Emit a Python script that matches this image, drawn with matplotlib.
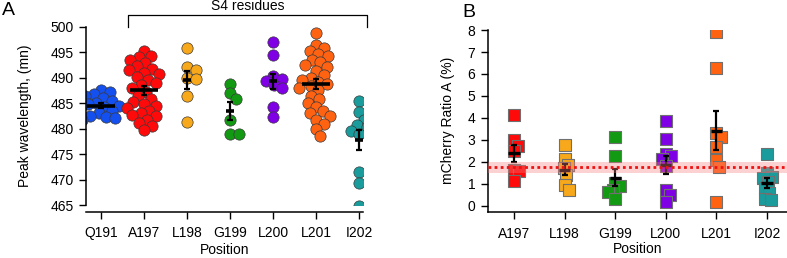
import numpy as np
import matplotlib
matplotlib.use('Agg')
import matplotlib.pyplot as plt

plt.rcParams['font.family'] = ['Liberation Sans', 'DejaVu Sans']
plt.rcParams['font.size'] = 10

# Panel A: peak wavelength per position
pos_a = ['Q191', 'A197', 'L198', 'G199', 'L200', 'L201', 'I202']
q191 = [487.6, 487.2, 486.8, 486.5, 486.0, 485.5, 485.0, 484.8, 484.5, 484.3,
        484.0, 483.5, 483.0, 482.5, 482.2, 482.0, 481.8]
a197 = [495.3, 494.2, 494.0, 493.5, 492.8, 492.2, 491.8, 491.5, 491.0, 490.8,
        490.2, 489.5, 489.0, 488.5, 488.0, 487.2, 486.5, 485.8, 485.2, 484.8,
        484.5, 484.0, 483.5, 483.0, 482.7, 482.5, 481.8, 481.2, 480.5, 479.8]
l198 = [495.8, 492.0, 491.5, 490.0, 489.8, 486.5, 481.3]
g199 = [488.7, 487.0, 485.8, 481.7, 478.9, 478.9]
l200 = [497.0, 494.4, 490.3, 489.8, 489.3, 488.5, 488.0, 484.2, 482.2]
l201 = [498.7, 496.5, 495.8, 495.3, 494.6, 494.3, 493.5, 493.0, 492.5, 492.0,
        491.3, 490.5, 490.0, 489.5, 489.2, 488.8, 488.3, 488.0, 487.5, 486.5,
        485.8, 485.0, 484.3, 483.5, 483.0, 482.5, 481.8, 481.0, 480.0, 478.5]
i202 = [485.5, 483.2, 481.8, 480.7, 480.3, 479.6, 479.3, 479.0, 471.5, 469.3, 464.8]
groups_a = [q191, a197, l198, g199, l200, l201, i202]
colors_a = ['#1450f0', '#ff0a0a', '#f7a81b', '#139a13', '#8000e6', '#ff6210', '#1a9c9c']

# Panel B: mCherry ratio per position
pos_b = ['A197', 'L198', 'G199', 'L200', 'L201', 'I202']
r_a197 = [4.14, 3.0, 2.74, 2.5, 1.64, 1.6, 1.12]
r_l198 = [2.77, 2.12, 1.86, 1.72, 1.41, 0.95, 0.73]
r_g199 = [3.15, 2.26, 1.05, 0.9, 0.72, 0.65, 0.32]
r_l200 = [3.88, 3.03, 2.35, 2.25, 2.12, 1.82, 0.73, 0.5, 0.2]
r_l201 = [7.91, 6.26, 3.3, 3.15, 2.7, 2.09, 1.79, 0.2]
r_i202 = [2.36, 1.49, 1.33, 1.26, 1.1, 0.8, 0.58, 0.32, 0.27]
groups_b = [r_a197, r_l198, r_g199, r_l200, r_l201, r_i202]
colors_b = colors_a[1:]
ctrl_mean = 1.75
ctrl_sem = 0.24


def swarm(vals, px_x, px_y, diam):
    # simple beeswarm: offsets in data units so markers don't overlap
    ys = np.asarray(vals, float) * px_y
    cands = [0.0]
    for s in np.arange(0.5, 60, 0.5):
        cands += [s, -s]
    placed = []
    offs = np.zeros(len(ys))
    for i in np.argsort(-ys):
        for c in cands:
            if all((c - p) ** 2 + (ys[i] - q) ** 2 >= diam ** 2 for p, q in placed):
                break
        placed.append((c, ys[i]))
        offs[i] = c
    return offs / px_x


def mean_sem(ax, x, vals, half, lw_mean, z=4):
    v = np.asarray(vals, float)
    m = v.mean()
    sem = v.std(ddof=1) / np.sqrt(len(v))
    ax.plot([x - half, x + half], [m, m], color='black', lw=lw_mean,
            solid_capstyle='butt', zorder=z)
    ax.errorbar(x, m, yerr=sem, fmt='none', ecolor='black', elinewidth=1.6,
                capsize=2.5, capthick=1.6, zorder=z)


fig = plt.figure(figsize=(7.87, 2.58), dpi=100)

# ---------------- Panel A ----------------
axA = fig.add_axes([0.1093, 0.2047, 0.352, 0.6918])
xa = np.arange(len(pos_a))
for x, vals, col in zip(xa, groups_a, colors_a):
    off = swarm(vals, 43.0, 5.1, 8.4)
    axA.scatter(x + off, vals, s=66, color=col, edgecolors='#3a3a3a',
                linewidths=0.5, zorder=2)
    half = 0.32 if len(vals) >= 15 else 0.1
    mean_sem(axA, x, vals, half, 2.6)

axA.set_xlim(-0.35, 6.09)
axA.set_ylim(465, 500)
axA.set_yticks(np.arange(465, 501, 5))
axA.set_xticks(xa)
axA.set_xticklabels(pos_a)
axA.spines['top'].set_visible(False)
axA.spines['right'].set_visible(False)
axA.spines['bottom'].set_position(('outward', 5))
axA.tick_params(direction='out', length=5, width=1, pad=4)
axA.tick_params(axis='x', pad=5)
axA.set_ylabel('Peak wavelength, (mn)', labelpad=13)
axA.set_xlabel('Position', labelpad=2)

# bracket over S4 residues
bx0, bx1, by = 0.63, 6.19, 502.3
axA.plot([bx0, bx0, bx1, bx1], [500.0, by, by, 500.0], color='black', lw=0.9,
         clip_on=False)
axA.text((bx0 + bx1) / 2, by + 0.3, 'S4 residues', ha='center', va='bottom',
         fontsize=10)

# ---------------- Panel B ----------------
axB = fig.add_axes([0.6197, 0.1795, 0.3803, 0.7042])
xb = np.arange(len(pos_b))
for x, vals, col in zip(xb, groups_b, colors_b):
    off = swarm(vals, 50.6, 22.0, 8.0)
    axB.scatter(x + off * 0.6, vals, s=66, marker='s', color=col,
                edgecolors='#707070', linewidths=0.8, zorder=2)
    mean_sem(axB, x, vals, 0.11, 2.4)

axB.axhspan(ctrl_mean - ctrl_sem, ctrl_mean + ctrl_sem, color='#f47c7c',
            alpha=0.35, lw=0, zorder=5)
axB.axhline(ctrl_mean, color='#ee1111', lw=2, ls=(0, (1, 1.2)), zorder=6)

axB.set_xlim(-0.52, 5.395)
axB.set_ylim(-0.26, 8)
axB.set_yticks(np.arange(0, 9, 1))
axB.set_xticks(xb)
axB.set_xticklabels(pos_b)
axB.spines['top'].set_visible(False)
axB.spines['right'].set_visible(False)
axB.tick_params(direction='out', length=5, width=1, pad=4)
axB.tick_params(axis='x', pad=6)
axB.set_ylabel('mCherry Ratio A (%)', labelpad=9)
axB.set_xlabel('Position', labelpad=1)

for sp in list(axA.spines.values()) + list(axB.spines.values()):
    sp.set_linewidth(1.1)

fig.text(0.002, 0.96, 'A', fontsize=14, va='center', ha='left')
fig.text(0.587, 0.952, 'B', fontsize=14, va='center', ha='left')

fig.savefig('out.png', dpi=100)
